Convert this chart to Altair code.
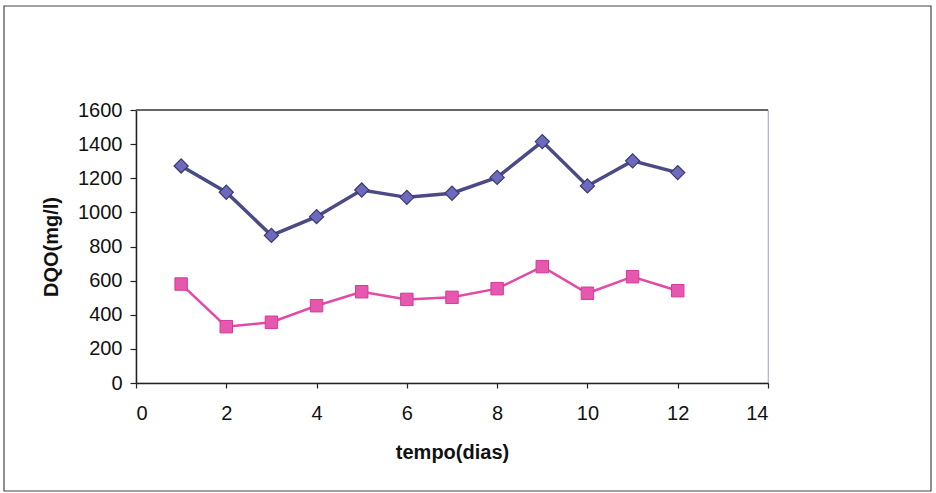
import altair as alt
import pandas as pd

dias = [1, 2, 3, 4, 5, 6, 7, 8, 9, 10, 11, 12]
dqo_a = [1272, 1118, 865, 975, 1131, 1088, 1112, 1205, 1415, 1155, 1302, 1233]
dqo_b = [580, 330, 356, 453, 535, 490, 502, 553, 682, 526, 623, 541]

x_ticks = [0, 2, 4, 6, 8, 10, 12, 14]
y_ticks = [0, 200, 400, 600, 800, 1000, 1200, 1400, 1600]

df_a = pd.DataFrame({"dia": dias, "dqo": dqo_a})
df_b = pd.DataFrame({"dia": dias, "dqo": dqo_b})

W, H = 632, 273
PL, PT = 136, 110
TOTAL_W, TOTAL_H = 936, 493

font = "'Liberation Sans', Arial, sans-serif"

x_axis = alt.Axis(values=x_ticks, title="tempo(dias)", format="d",
                  labelPadding=15, titlePadding=19, tickSize=5)
y_axis = alt.Axis(values=y_ticks, title="DQO(mg/l)", format="d",
                  labelPadding=8, titlePadding=16, tickSize=6)

x_enc = alt.X("dia:Q", scale=alt.Scale(domain=[0, 14], nice=False), axis=x_axis)
y_enc = alt.Y("dqo:Q", scale=alt.Scale(domain=[0, 1600], nice=False), axis=y_axis)

frame = alt.Chart(pd.DataFrame({"k": [0]})).mark_rect(
    fill=None, stroke="#444", strokeWidth=1.2
).encode(
    x=alt.value(4 - PL), x2=alt.value(931 - PL),
    y=alt.value(6 - PT), y2=alt.value(491 - PT),
)

top_rule = alt.Chart(pd.DataFrame({"k": [0]})).mark_rule(
    color="#666", strokeWidth=2
).encode(y=alt.Y("v:Q", scale=alt.Scale(domain=[0, 1600], nice=False), axis=y_axis)).transform_calculate(v="1600")

line_a = alt.Chart(df_a).mark_line(color="#4a4a86", strokeWidth=3.5).encode(x=x_enc, y=y_enc)
pts_a = alt.Chart(df_a).mark_point(
    shape="diamond", size=200, filled=True, fill="#6d69bd", stroke="#3c3a70",
    strokeWidth=1.2, opacity=1,
).encode(x=x_enc, y=y_enc)

line_b = alt.Chart(df_b).mark_line(color="#e14aa6", strokeWidth=2.5).encode(x=x_enc, y=y_enc)
pts_b = alt.Chart(df_b).mark_point(
    shape="square", size=155, filled=True, fill="#e657ae", stroke="#d23c98",
    strokeWidth=1, opacity=1,
).encode(x=x_enc, y=y_enc)

chart = alt.layer(frame, top_rule, line_a, pts_a, line_b, pts_b).properties(
    width=W, height=H,
    autosize=alt.AutoSizeParams(type="none"),
    padding={"left": PL, "top": PT, "right": TOTAL_W - PL - W, "bottom": TOTAL_H - PT - H},
    background="#ffffff",
).configure_view(
    stroke="#aeb0cc", strokeWidth=1.2
).configure_axis(
    grid=False, labelFontSize=20, labelFont=font, labelColor="#111", labelOverlap=False,
    titleFontSize=20, titleFont=font, titleFontWeight="bold", titleColor="#111",
    domainColor="#222", domainWidth=1.5, tickColor="#222", tickWidth=1.2,
)

chart.save("out.html", embed_options={"renderer": "svg", "actions": False})
